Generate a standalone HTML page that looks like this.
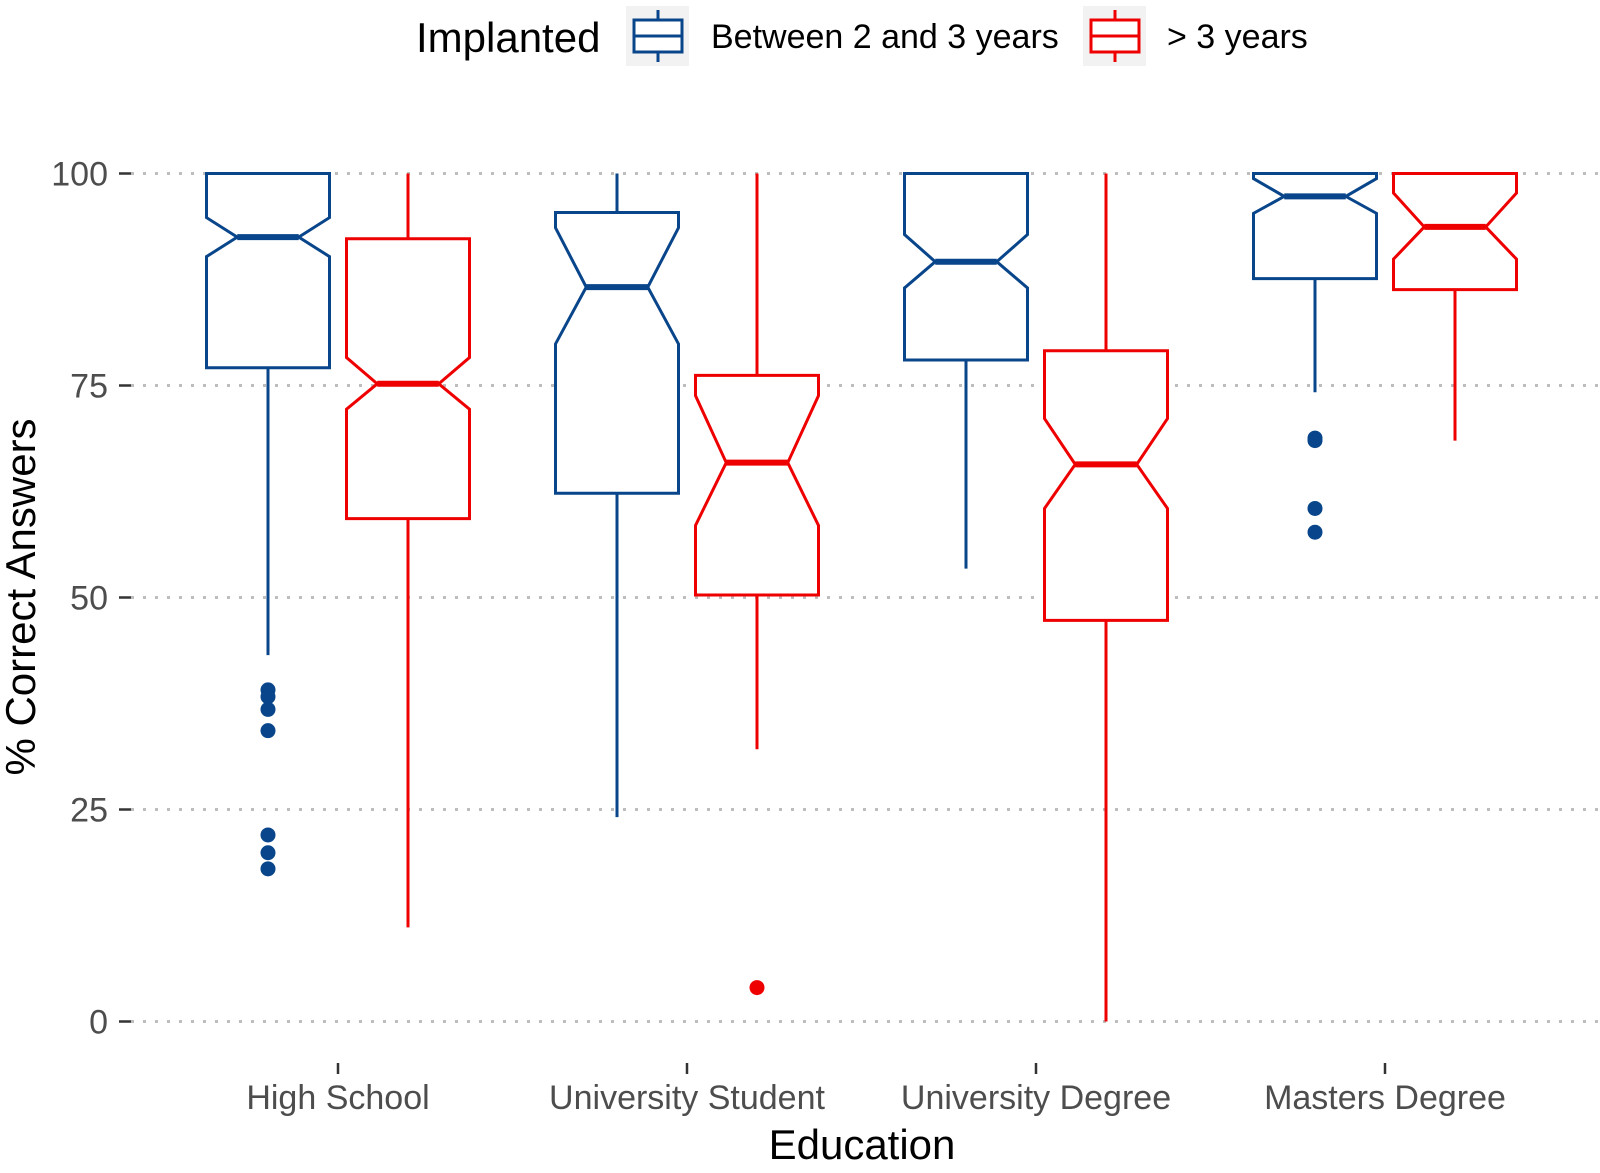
<!DOCTYPE html>
<html><head><meta charset="utf-8"><style>
body{margin:0;background:#fff;}
svg text{font-family:"Liberation Sans",sans-serif;}
</style></head><body>
<svg id="chart" width="1600" height="1168" xmlns="http://www.w3.org/2000/svg">
<g>
<text x="416" y="52" font-size="42" fill="#000">Implanted</text>
<g>
<rect x="626" y="6" width="63" height="60" fill="#f2f2f2"/>
<line x1="658" y1="10" x2="658" y2="62" stroke="#08458a" stroke-width="3"/>
<rect x="634" y="20" width="48" height="32" fill="#fff" stroke="#08458a" stroke-width="3"/>
<line x1="634" y1="36" x2="682" y2="36" stroke="#08458a" stroke-width="3"/>
<text x="711" y="48" font-size="34" fill="#000">Between 2 and 3 years</text>
</g>
<g>
<rect x="1083" y="6" width="63" height="60" fill="#f2f2f2"/>
<line x1="1115" y1="10" x2="1115" y2="62" stroke="#ee0000" stroke-width="3"/>
<rect x="1091" y="20" width="48" height="32" fill="#fff" stroke="#ee0000" stroke-width="3"/>
<line x1="1091" y1="36" x2="1139" y2="36" stroke="#ee0000" stroke-width="3"/>
<text x="1167" y="48" font-size="34" fill="#000">&gt; 3 years</text>
</g>
</g>
<g id="grid"></g>
<g id="yaxis"></g>
<g id="xaxis"></g>
<g id="marks"></g>
<text x="862" y="1159" font-size="42" text-anchor="middle" fill="#000">Education</text>
<text transform="translate(35,597) rotate(-90)" font-size="42" text-anchor="middle" fill="#000">% Correct Answers</text>
</svg>
<script>
const categories = ["High School","University Student","University Degree","Masters Degree"];
const yTicks = [0,25,50,75,100];
// per category: [blue, red]
const lowerWhisker = [[43.2,11.1],[24.1,32.1],[53.4,0],[74.2,68.5]];
const q1 = [[77.1,59.3],[62.3,50.3],[78.0,47.3],[87.6,86.3]];
const notchLo = [[90.2,72.2],[79.9,58.5],[86.5,60.5],[95.3,89.9]];
const median = [[92.5,75.2],[86.6,65.9],[89.6,65.7],[97.3,93.7]];
const notchHi = [[94.8,78.3],[93.6,73.8],[92.8,71.1],[99.4,97.7]];
const q3 = [[100,92.3],[95.4,76.2],[100,79.1],[100,100]];
const upperWhisker = [[100,100],[100,100],[100,100],[100,100]];
const outliers = [[[39.1,38.3,36.8,34.3,22.0,19.9,18.0],[]],[[],[4.0]],[[],[]],[[68.8,68.5,60.5,57.7],[]]];

const colors = ["#08458a","#ee0000"];
const ns = "http://www.w3.org/2000/svg";
const y = v => 1021.5 - 8.48*v;
const x = i => 338 + 349*i;
const off = [-70,70], bw = 123;
function mk(tag, attrs, parent){const e=document.createElementNS(ns,tag);for(const k in attrs)e.setAttribute(k,attrs[k]);parent.appendChild(e);return e;}
const grid=document.getElementById('grid'), ya=document.getElementById('yaxis'), xa=document.getElementById('xaxis'), marks=document.getElementById('marks');
yTicks.forEach(t=>{
  const g=mk('line',{x1:131,x2:1600,y1:y(t),y2:y(t),stroke:'#bdbdbd','stroke-width':3,'stroke-dasharray':'3 9'},grid);
  
  
  const tk=mk('line',{x1:119,x2:131,y1:y(t),y2:y(t),stroke:'#333','stroke-width':2.5},ya);
  
  
  const tl=mk('text',{x:108,y:y(t)+12,'font-size':34,'text-anchor':'end',fill:'#4d4d4d'},ya);
  
  
  tl.textContent=t;
});
categories.forEach((c,i)=>{
  const tk=mk('line',{x1:x(i),x2:x(i),y1:1063,y2:1074,stroke:'#333','stroke-width':2.5},xa);
  
  
  const tl=mk('text',{x:x(i),y:1109,'font-size':34,'text-anchor':'middle',fill:'#4d4d4d'},xa);
  
  
  tl.textContent=c;
  for(let s=0;s<2;s++){
    const cx=x(i)+off[s], l=cx-bw/2, r=cx+bw/2, il=cx-bw/4, ir=cx+bw/4, col=colors[s];
    const g=mk('g',{},marks);
    
    
    mk('line',{x1:cx,x2:cx,y1:y(q3[i][s]),y2:y(upperWhisker[i][s]),stroke:col,'stroke-width':3},g);
    mk('line',{x1:cx,x2:cx,y1:y(q1[i][s]),y2:y(lowerWhisker[i][s]),stroke:col,'stroke-width':3},g);
    const pts=[[l,q1[i][s]],[l,notchLo[i][s]],[il,median[i][s]],[l,notchHi[i][s]],[l,q3[i][s]],[r,q3[i][s]],[r,notchHi[i][s]],[ir,median[i][s]],[r,notchLo[i][s]],[r,q1[i][s]]];
    mk('polygon',{points:pts.map(p=>p[0]+','+y(p[1])).join(' '),fill:'#fff',stroke:col,'stroke-width':3},g);
    mk('line',{x1:il,x2:ir,y1:y(median[i][s]),y2:y(median[i][s]),stroke:col,'stroke-width':6},g);
    outliers[i][s].forEach(v=>{
      const d=mk('circle',{cx:cx,cy:y(v),r:7.5,fill:col},marks);
      
      
    });
  }
});
</script>
</body></html>
